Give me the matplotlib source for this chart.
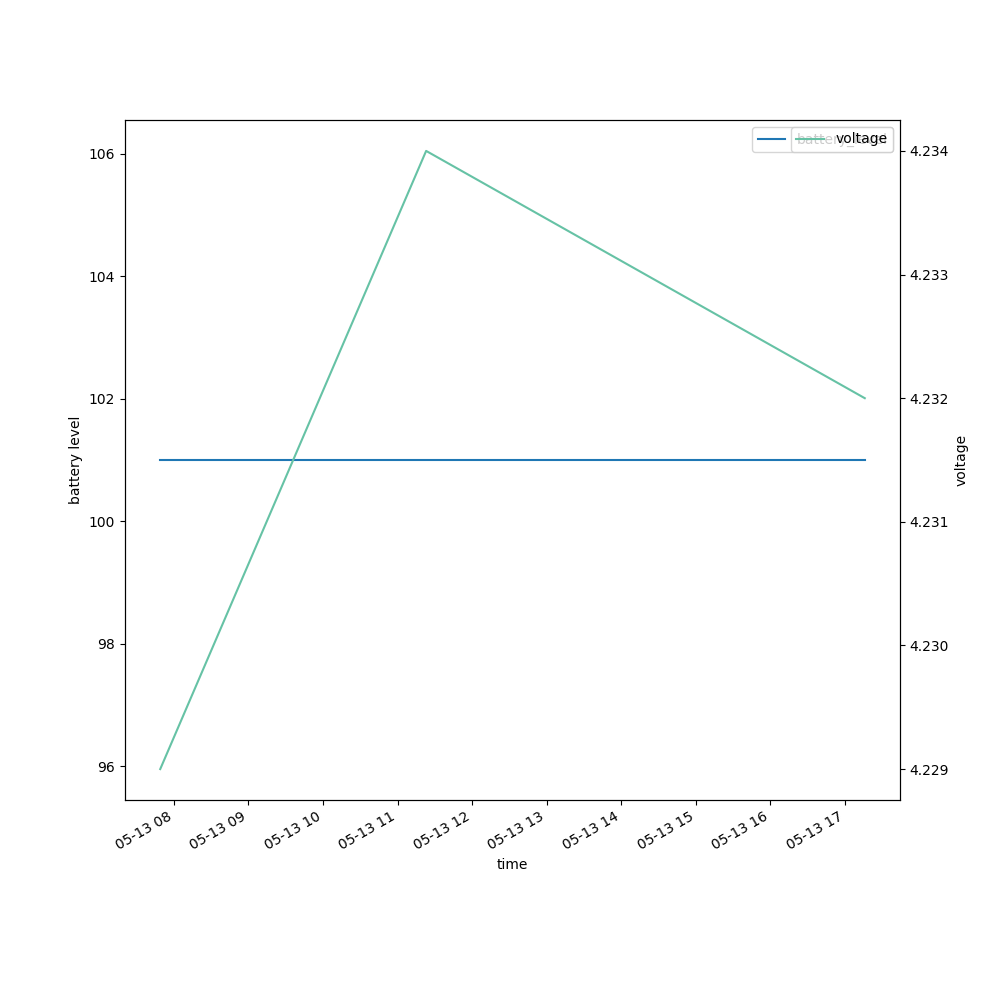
import matplotlib
matplotlib.use('Agg')
import matplotlib.pyplot as plt
import numpy as np
from datetime import datetime

times = [datetime(2023, 5, 13, 7, 49), datetime(2023, 5, 13, 11, 23), datetime(2023, 5, 13, 17, 16)]
battery_level = [101, 101, 101]
voltage = [4.229, 4.234, 4.232]

fig, ax = plt.subplots(figsize=(10, 10))
ax.plot(times, battery_level, color='#1f77b4', label='battery_level')
ax.set_xlabel('time')
ax.set_ylabel('battery level')
ax.legend(loc='upper right')

ax2 = ax.twinx()
ax2.plot(times, voltage, color='#66c2a5', label='voltage')
ax2.set_ylabel('voltage')
ax2.legend(loc='upper right')

fig.autofmt_xdate()
plt.savefig('out.png', dpi=100)
